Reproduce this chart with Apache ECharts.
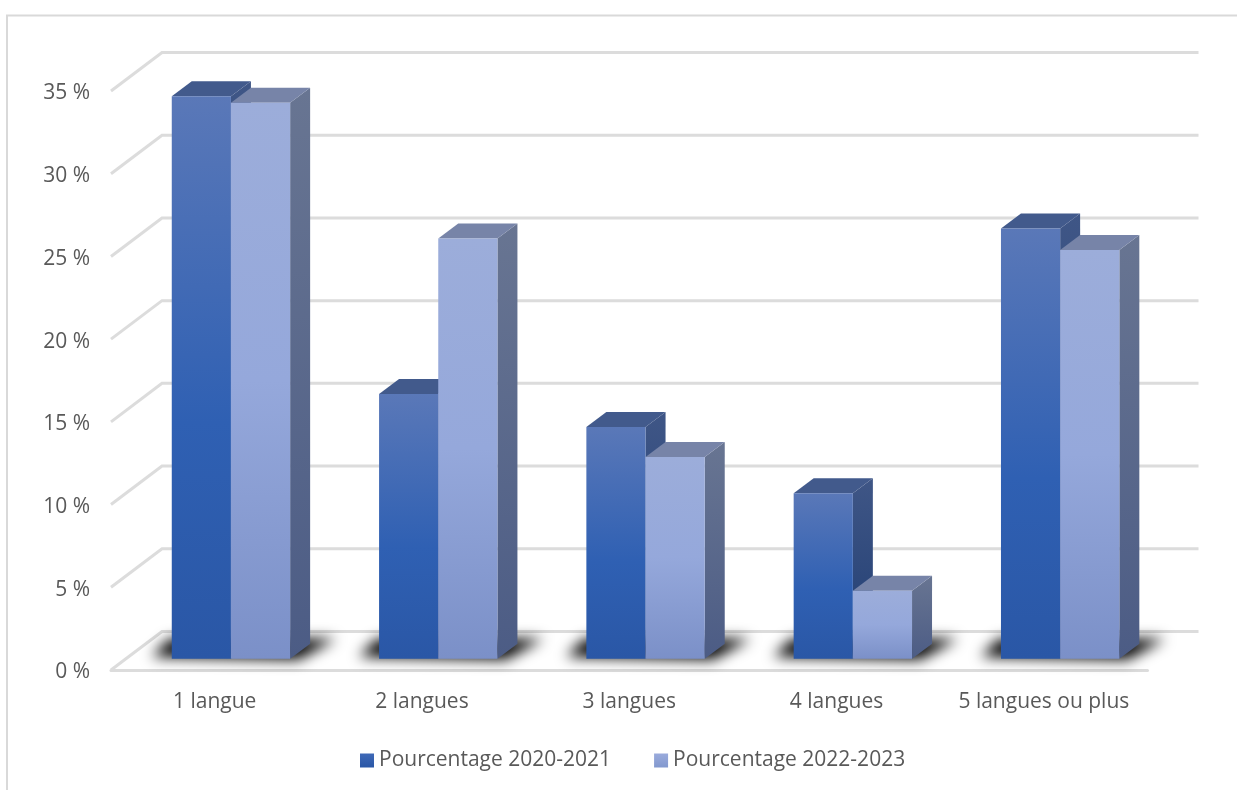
<!DOCTYPE html>
<html lang="fr">
<head>
<meta charset="utf-8">
<title>Nombre de langues</title>
<style>html,body{margin:0;padding:0;background:#fff}#chart{width:1237px;height:790px}</style>
<script src="https://cdn.jsdelivr.net/npm/echarts@6/dist/echarts.min.js"></script>
</head>
<body>
<div id="chart"></div>
<script>
const categories = ['1 langue', '2 langues', '3 langues', '4 langues', '5 langues ou plus'];
const values2021 = [34, 16, 14, 10, 26];
const values2023 = [33.6, 25.4, 12.2, 4.1, 24.7];
const seriesNames = ['Pourcentage 2020-2021', 'Pourcentage 2022-2023'];
const axisTicks = [0, 5, 10, 15, 20, 25, 30, 35];

// Pseudo-3D projection, in pixels
const WALL = { dx: 51, dy: -38.5 };
const BAR_DEPTH = { dx: 20, dy: -15 };
const BAR_SHIFT = { dx: 16.3, dy: -11.3 };
const BAR_RATIO = 0.2855;
const FAR = 4000; // shadow casters sit off to the side so that only the blur shows

const grad = (stops) => new echarts.graphic.LinearGradient(0, 0, 0, 1,
  stops.map(([offset, color]) => ({ offset, color })));

const palette = [
  {
    front: () => grad([[0, '#5a78b8'], [0.58, '#2f60b3'], [1, '#2a57a6']]),
    side: () => grad([[0, '#3f5686'], [1, '#203d72']]),
    top: '#425a8c',
    legend: () => grad([[0, '#3f69b7'], [1, '#2a57a6']])
  },
  {
    front: () => grad([[0, '#9cadda'], [0.5, '#95a8db'], [1, '#7b90c8']]),
    side: () => grad([[0, '#687592'], [1, '#4c5c85']]),
    top: '#7784a8',
    legend: () => grad([[0, '#9aabdc'], [1, '#8298ce']])
  }
];

const poly = (points, style) => ({ type: 'polygon', shape: { points }, style, silent: true });

function barGeometry(api, seriesIndex) {
  const cat = api.value(0);
  const base = api.coord([cat, 0]);
  const head = api.coord([cat, api.value(1)]);
  const w = api.size([1, 0])[0] * BAR_RATIO;
  const x0 = base[0] + BAR_SHIFT.dx - w + seriesIndex * w;
  return { x0, x1: x0 + w, yBase: base[1] + BAR_SHIFT.dy, yTop: head[1] + BAR_SHIFT.dy };
}

function renderBar(seriesIndex) {
  return function (params, api) {
    const { x0, x1, yBase, yTop } = barGeometry(api, seriesIndex);
    const p = palette[seriesIndex];
    const { dx, dy } = BAR_DEPTH;
    return {
      type: 'group',
      children: [
        poly([[x1, yBase], [x1 + dx, yBase + dy], [x1 + dx, yTop + dy], [x1, yTop]], { fill: p.side() }),
        poly([[x0, yTop], [x0 + dx, yTop + dy], [x1 + dx, yTop + dy], [x1, yTop]], { fill: p.top }),
        { type: 'rect', shape: { x: x0, y: yTop, width: x1 - x0, height: yBase - yTop }, style: { fill: p.front() }, silent: true }
      ]
    };
  };
}

// Soft contact shadow cast on the floor behind each pair of bars
function renderShadow(params, api) {
  const cat = api.value(0);
  const base = api.coord([cat, 0]);
  const w = api.size([1, 0])[0] * BAR_RATIO;
  const x0 = base[0] + BAR_SHIFT.dx - w;
  const x1 = x0 + 2 * w;
  const y = base[1] + BAR_SHIFT.dy;
  return poly([
    [x0 - 20 - FAR, y - 2], [x1 + 8 - FAR, y + 1], [x1 + 46 - FAR, y - 20], [x0 - 2 - FAR, y - 20]
  ], { fill: '#000', shadowColor: 'rgba(0,0,0,1)', shadowBlur: 14, shadowOffsetX: FAR, shadowOffsetY: 0 });
}

// Wall and floor rules: diagonal on the side wall, then straight along the back
function renderWall(params, api) {
  const front = api.coord([0, api.value(1)]);
  const half = api.size([1, 0])[0] / 2;
  const xl = front[0] - half;
  const xr = xl + api.size([1, 0])[0] * categories.length;
  return {
    type: 'polyline',
    silent: true,
    shape: { points: [[xl, front[1]], [xl + WALL.dx, front[1] + WALL.dy], [xr + WALL.dx, front[1] + WALL.dy]] },
    style: { stroke: '#dcdcdc', lineWidth: 3, fill: 'none' }
  };
}

const chart = echarts.init(document.getElementById('chart'), null, { renderer: 'canvas' });
const font = '"Open Sans", sans-serif';

chart.setOption({
  animation: false,
  backgroundColor: '#fff',
  textStyle: { fontFamily: font },
  grid: { left: 111, right: 89.5, top: 91, bottom: 120 },
  graphic: [{
    type: 'polyline',
    silent: true,
    z: -1,
    shape: { points: [[7, 790], [7, 15.5], [1237, 15.5]] },
    style: { stroke: '#d9d9d9', lineWidth: 2, fill: 'none' }
  }],
  legend: {
    data: seriesNames,
    left: 355,
    top: 745,
    icon: 'rect',
    itemWidth: 14,
    itemHeight: 14,
    itemGap: 43,
    textStyle: { color: '#595959', fontSize: 21, fontFamily: font }
  },
  xAxis: {
    type: 'category',
    data: categories,
    axisTick: { show: false },
    axisLine: { lineStyle: { color: '#dcdcdc', width: 3 } },
    axisLabel: { color: '#595959', fontSize: 21, fontFamily: font, margin: 22, interval: 0 }
  },
  yAxis: {
    type: 'value',
    min: 0,
    max: 35,
    interval: 5,
    axisLine: { show: false },
    axisTick: { show: false },
    splitLine: { show: false },
    axisLabel: {
      margin: 21,
      formatter: '{tick|{value} %}',
      rich: { tick: { color: '#595959', fontSize: 21, fontFamily: font, padding: [5, 0, 0, 0] } }
    }
  },
  series: [
    { type: 'custom', name: 'murs', z: 1, renderItem: renderWall, data: axisTicks.map((v) => [0, v]), silent: true },
    { type: 'custom', name: 'ombres', z: 2, renderItem: renderShadow, data: categories.map((_, i) => [i, 0]), silent: true },
    { type: 'custom', name: seriesNames[0], z: 3, renderItem: renderBar(0), itemStyle: { color: palette[0].legend() }, data: values2021.map((v, i) => [i, v]) },
    { type: 'custom', name: seriesNames[1], z: 4, renderItem: renderBar(1), itemStyle: { color: palette[1].legend() }, data: values2023.map((v, i) => [i, v]) }
  ]
});
</script>
</body>
</html>
